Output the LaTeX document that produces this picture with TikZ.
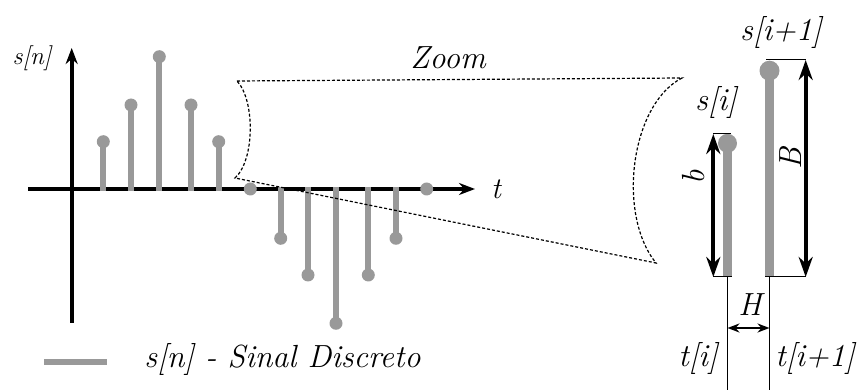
\documentclass[tikz,border=0pt]{standalone}
\usepackage{xcolor}
\definecolor{stemGray}{gray}{0.60}
\usetikzlibrary{arrows.meta}

\begin{document}
\begin{tikzpicture}[x=0.5pt, y=-0.5pt, >={Stealth[length=8pt,width=6pt]},
    lbl/.style={font=\fontsize{16}{18}\selectfont\itshape, inner sep=0pt},
    stem/.style={stemGray, line width=3pt},
    bigstem/.style={stemGray, line width=4.25pt},
    axis/.style={->, line width=2pt},
    dimarrow/.style={<->, line width=2pt, >={Stealth[length=10pt,width=7pt]}},
    guide/.style={black, line width=0.5pt}]
  \useasboundingbox (0,0) rectangle (859,390);

  % ---- discrete signal s[n] ----
  \coordinate (xL) at (28,189);
  \coordinate (xR) at (475,189);
  \coordinate (yB) at (71.7,323);
  \coordinate (yT) at (71.7,48);
  \draw[axis] (xL) -- (xR);
  \draw[axis] (yB) -- (yT);
  % positive samples sit on the axis, negative ones hang below it
  \foreach \x/\y in {103.3/141.7, 131/105, 159.3/56.7, 191/105, 218.7/141.7} {
    \draw[stem] (\x,191) -- (\x,\y);
    \fill[stemGray] (\x,\y) circle (6.5);
  }
  \foreach \x/\y in {280.7/238.3, 308/275, 336/323.3, 368.3/275, 396/238.3} {
    \draw[stem] (\x,187) -- (\x,\y);
    \fill[stemGray] (\x,\y) circle (6.5);
  }
  \foreach \x in {250.3, 426.7}
    \fill[stemGray] (\x,189) circle (6.5);
  \node[lbl, font=\fontsize{12.5}{14}\selectfont\itshape] (snLbl) at (32,58) {s[n]};
  \node[lbl, font=\fontsize{15}{17}\selectfont\itshape] (tLbl) at (496,189) {t};

  % ---- zoom window ----
  \draw[guide, line width=0.6pt, dash pattern=on 1.5pt off 1pt]
    (237,81) -- (682,78) .. controls (630,105) and (617,215) .. (656,263)
    -- (235,178) .. controls (255,160) and (255,100) .. (237,81);
  \node[lbl] (zoomLbl) at (448,58) {Zoom};

  % ---- two neighbouring samples, enlarged ----
  \coordinate (si) at (727.5,277);
  \coordinate (siTop) at (727.5,143.3);
  \coordinate (sj) at (769.5,277);
  \coordinate (sjTop) at (769.5,70.7);
  \draw[bigstem] (si) -- (siTop);
  \fill[stemGray] (siTop) circle (9.5);
  \draw[bigstem] (sj) -- (sjTop);
  \fill[stemGray] (sjTop) circle (10);
  \node[lbl] (siLbl) at (716,103) {s[i]};
  \node[lbl] (sjLbl) at (781,33) {s[i+1]};

  % heights b and B
  \coordinate (bTop) at (713.3,134);
  \coordinate (bBot) at (713.3,277);
  \coordinate (BTop) at (805.7,60);
  \coordinate (BBot) at (805.7,277);
  \draw[guide] (bTop) -- (731,134);
  \draw[guide] (bBot) -- (732,277);
  \draw[guide] (766,60) -- (BTop);
  \draw[guide] (765,277) -- (BBot);
  \draw[dimarrow] (bBot) -- (bTop);
  \draw[dimarrow] (BBot) -- (BTop);
  \node[lbl, rotate=90] (bLbl) at (694,177) {b};
  \node[lbl, rotate=90] (BLbl) at (791,158) {B};

  % spacing H between t[i] and t[i+1]
  \coordinate (ti) at (727.5,390);
  \coordinate (tj) at (769.5,390);
  \draw[guide] (si) -- (ti);
  \draw[guide] (sj) -- (tj);
  \draw[<->, line width=1pt, >={Stealth[length=6pt,width=4.5pt]}]
    (727.5,328) -- (769.5,328);
  \node[lbl] (HLbl) at (750,305) {H};
  \node[lbl] (tiLbl) at (698,359) {t[i]};
  \node[lbl] (tjLbl) at (815,359) {t[i+1]};

  % ---- legend ----
  \draw[stem] (44,361.7) -- (107,361.7);
  \node[lbl] (legLbl) at (282.5,360) {s[n] - Sinal Discreto};
\end{tikzpicture}
\end{document}
